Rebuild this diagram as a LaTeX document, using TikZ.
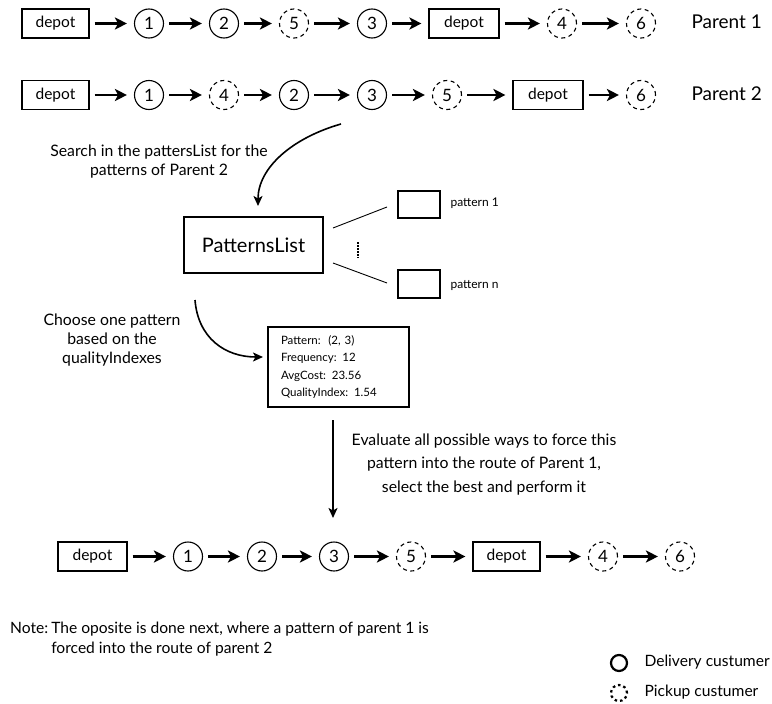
\documentclass[tikz,border=0pt]{standalone}
\usepackage{fontspec}
\setmainfont{Lato}
\usetikzlibrary{arrows.meta}
\begin{document}
\begin{tikzpicture}[x=1pt,y=-1pt,
  depotbox/.style={draw, line width=1.1pt, minimum width=67pt, minimum height=29pt,
    inner sep=0pt, font=\fontsize{15.5}{17}\selectfont},
  deliv/.style={draw, circle, line width=1.1pt, minimum size=29pt, inner sep=0pt,
    font=\fontsize{17}{19}\selectfont},
  pickup/.style={deliv, dash pattern=on 4pt off 3.5pt},
  hop/.style={line width=2.3pt, -{Stealth[length=12pt,width=12pt,inset=3pt]},
    shorten <=5pt, shorten >=7pt},
  bigarrow/.style={line width=1.6pt, -{Stealth[length=10pt,width=9pt,inset=2.5pt]}},
  txt/.style={font=\fontsize{15.8}{19}\selectfont, align=center},
  parent/.style={font=\fontsize{19}{22}\selectfont, anchor=west},
  small/.style={font=\fontsize{12}{14}\selectfont, anchor=west},
]
\useasboundingbox (0,0) rectangle (772,704);

% ---------- Parent 1 ----------
\node[depotbox] (a0) at (55.5,23.5) {depot};
\node[deliv]    (a1) at (149,23.5) {1};
\node[deliv]    (a2) at (224,23.5) {2};
\node[pickup]   (a3) at (294,23.5) {5};
\node[deliv]    (a4) at (372,23.5) {3};
\node[depotbox, minimum width=70pt] (a5) at (464,23.5) {depot};
\node[pickup]   (a6) at (562,23.5) {4};
\node[pickup]   (a7) at (641,23.5) {6};
\foreach \i/\j in {a0/a1,a1/a2,a2/a3,a3/a4,a4/a5,a5/a6,a6/a7}
  \draw[hop] (\i) -- (\j);
\node[parent] (p1) at (688,22) {Parent 1};

% ---------- Parent 2 ----------
\node[depotbox] (b0) at (55.5,95) {depot};
\node[deliv]    (b1) at (149,95) {1};
\node[pickup]   (b2) at (224,95) {4};
\node[deliv]    (b3) at (294,95) {2};
\node[deliv]    (b4) at (372,95) {3};
\node[pickup]   (b5) at (447,95) {5};
\node[depotbox, minimum width=70pt] (b6) at (548,95) {depot};
\node[pickup]   (b7) at (641,95) {6};
\foreach \i/\j in {b0/b1,b1/b2,b2/b3,b3/b4,b4/b5,b5/b6,b6/b7}
  \draw[hop] (\i) -- (\j);
\node[parent] (p2) at (688,94) {Parent 2};

% ---------- search in the patterns list ----------
\node[txt] (search) at (159,162) {Search in the pattersList for the\\patterns of Parent 2};
\coordinate (s0) at (341,124);
\node[draw, line width=1.1pt, minimum width=139pt, minimum height=56pt,
      font=\fontsize{20}{23}\selectfont] (plist) at (253.5,245) {PatternsList};
\coordinate (s1) at (258,206);
\draw[bigarrow] (s0) .. controls (292,138) and (258,168) .. (s1);

\node[draw, line width=1.1pt, minimum width=42pt, minimum height=27pt] (pat1) at (419,204.5) {};
\node[draw, line width=1.1pt, minimum width=42pt, minimum height=28pt] (patn) at (419,284) {};
\node[small] at (447,203) {pattern 1};
\node[small] at (447,286) {pattern n};
\coordinate (l1a) at (333,228);
\coordinate (l1b) at (387,207);
\coordinate (l2a) at (333,263);
\coordinate (l2b) at (387,283);
\draw[line width=0.9pt] (l1a) -- (l1b);
\draw[line width=0.9pt] (l2a) -- (l2b);
\coordinate (d0) at (358,242);
\coordinate (d1) at (358,258);
\draw[line width=1.8pt, dash pattern=on 1.5pt off 1.5pt] (d0) -- (d1);

% ---------- choose a pattern ----------
\node[txt, anchor=north] (choose) at (112,310) {Choose one pattern\\based on the\\qualityIndexes};
\node[draw, line width=1.3pt, minimum width=141pt, minimum height=80pt, text width=115pt,
      inner xsep=13pt, align=left, font=\fontsize{11.5}{17.5}\selectfont] (info) at (338.5,367)
  {Pattern:~~(2, 3)\\Frequency: 12\\AvgCost: 23.56\\QualityIndex: 1.54};
\coordinate (c0) at (195,300);
\coordinate (c1) at (263,357);
\draw[bigarrow] (c0) .. controls (198,338) and (225,357) .. (c1);

% ---------- force the pattern into Parent 1 ----------
\coordinate (v0) at (333,420);
\coordinate (v1) at (333,518);
\draw[bigarrow] (v0) -- (v1);
\node[txt, anchor=north, font=\fontsize{15.8}{23.5}\selectfont] (eval) at (484,430)
  {Evaluate all possible ways to force this\\pattern into the route of Parent 1,\\select the best and perform it};

% ---------- offspring ----------
\node[depotbox, minimum width=69pt] (c0n) at (92.5,556.5) {depot};
\node[deliv]    (c1n) at (188,556.5) {1};
\node[deliv]    (c2n) at (262,556.5) {2};
\node[deliv]    (c3n) at (334,556.5) {3};
\node[pickup]   (c4n) at (411,556.5) {5};
\node[depotbox] (c5n) at (506.5,556.5) {depot};
\node[pickup]   (c6n) at (603,556.5) {4};
\node[pickup]   (c7n) at (680,556.5) {6};
\foreach \i/\j in {c0n/c1n,c1n/c2n,c2n/c3n,c3n/c4n,c4n/c5n,c5n/c6n,c6n/c7n}
  \draw[hop] (\i) -- (\j);

% ---------- note ----------
\node[anchor=north west, inner sep=0pt, font=\fontsize{15.6}{19.5}\selectfont] (note) at (10,620)
  {\begin{tabular}{@{}l@{\hspace{3pt}}l@{}}
    Note: & The oposite is done next, where a pattern of parent 1 is\\
          & forced into the route of parent 2
   \end{tabular}};

% ---------- legend ----------
\node[draw, circle, line width=2.2pt, minimum size=16pt, inner sep=0pt] (lg1) at (619,663) {};
\node[draw, circle, line width=2.2pt, minimum size=16pt, inner sep=0pt,
      dash pattern=on 2.5pt off 3pt] (lg2) at (619,693) {};
\node[anchor=west, font=\fontsize{15.6}{17}\selectfont] (lt1) at (641,662) {Delivery custumer};
\node[anchor=west, font=\fontsize{15.6}{17}\selectfont] (lt2) at (641,692) {Pickup custumer};
\end{tikzpicture}
\end{document}
